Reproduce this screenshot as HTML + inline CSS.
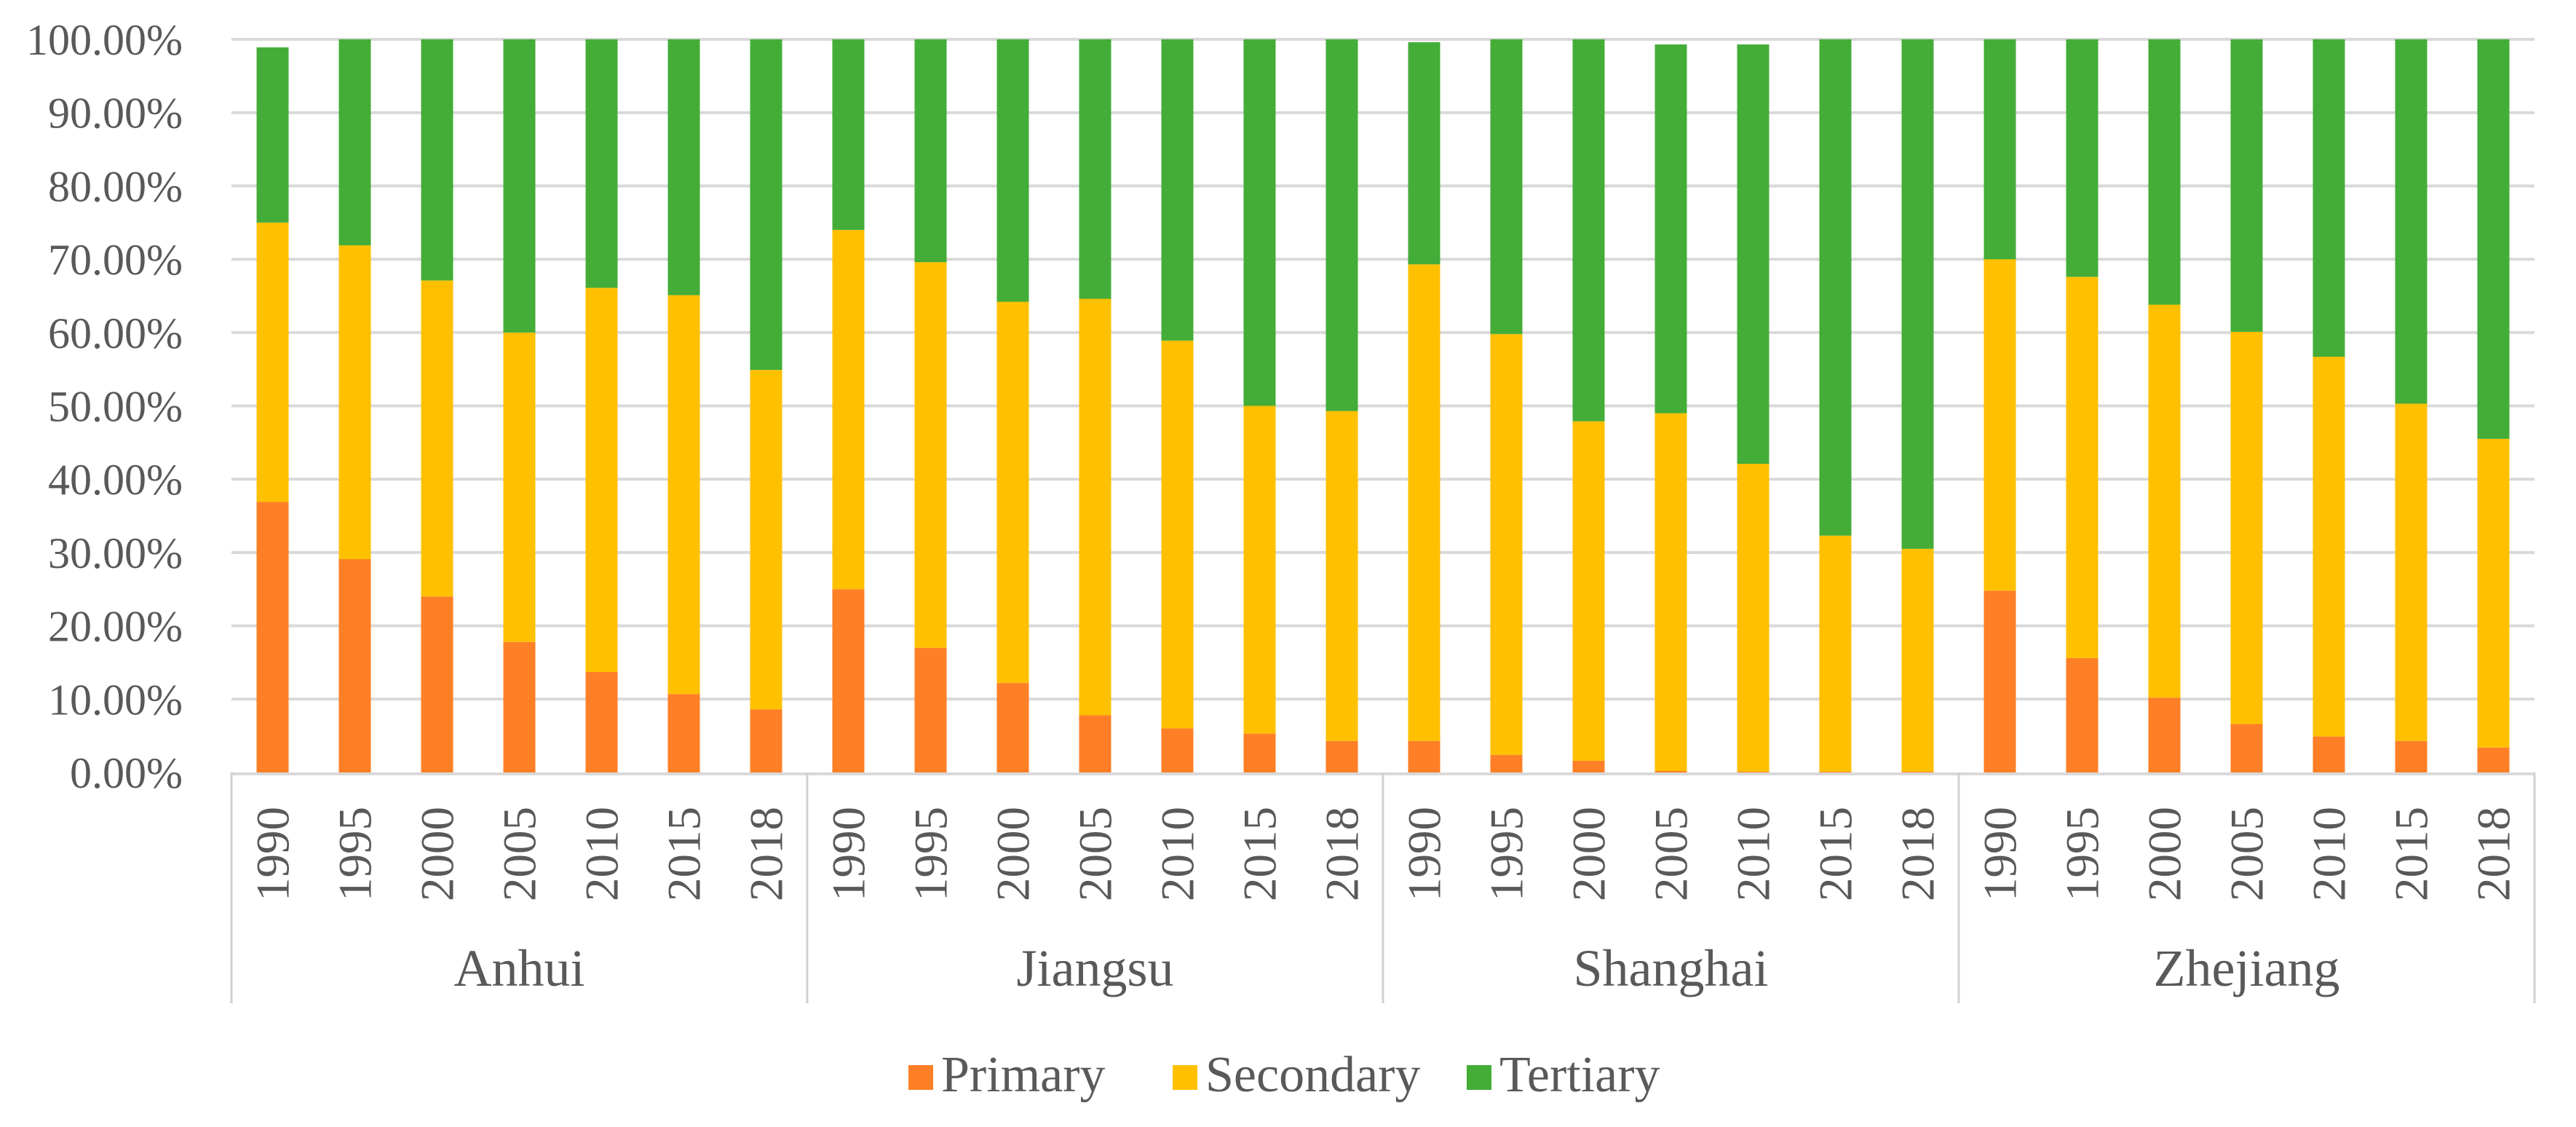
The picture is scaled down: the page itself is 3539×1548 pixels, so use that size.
<!DOCTYPE html>
<html><head><meta charset="utf-8"><style>
html,body{margin:0;padding:0;background:#fff;}
svg{display:block;}
text{font-family:"Liberation Serif",serif;fill:#595959;}
</style></head><body>
<svg id="chart" width="3539" height="1548" viewBox="0 0 3539 1548" xmlns="http://www.w3.org/2000/svg">
<g id="grid"></g>
<g id="yaxis"></g>
<g id="bars"></g>
<g id="xaxis"></g>
<g id="legend"></g>
</svg>
<script>
const regions = ["Anhui","Jiangsu","Shanghai","Zhejiang"];
const years = ["1990","1995","2000","2005","2010","2015","2018"];
const primary = [36.9,29.1,24.0,17.8,13.7,10.7,8.6, 25.0,17.0,12.2,7.8,6.0,5.3,4.3, 4.3,2.4,1.6,0.2,0.1,0.1,0.1, 24.8,15.6,10.2,6.6,4.9,4.3,3.4];
const secondary = [38.1,42.8,43.1,42.2,52.4,54.4,46.3, 49.0,52.6,52.0,56.8,52.9,44.7,45.0, 65.0,57.4,46.3,48.8,42.0,32.2,30.4, 45.2,52.0,53.6,53.5,51.8,46.0,42.1];
const tertiary = [23.9,28.1,32.9,40.0,33.9,34.9,45.1, 26.0,30.4,35.8,35.4,41.1,50.0,50.7, 30.3,40.2,52.1,50.3,57.2,67.7,69.5, 30.0,32.4,36.2,39.9,43.3,49.7,54.5];
const yTicks = [0,10,20,30,40,50,60,70,80,90,100];
const yTickLabels = ["0.00%","10.00%","20.00%","30.00%","40.00%","50.00%","60.00%","70.00%","80.00%","90.00%","100.00%"];
const seriesNames = ["Primary","Secondary","Tertiary"];
const colors = ["#FE7F26","#FFC000","#44AD38"];

const NS="http://www.w3.org/2000/svg";
const L=318,R=3482,Y0=1061,Y100=54,BW=44;
const n=regions.length*years.length;
const step=(R-L)/n;
const y=v=>Y0-(Y0-Y100)*v/100;
const xc=i=>L+step*(i+0.5);
function mk(tag,attrs,parent){const e=document.createElementNS(NS,tag);for(const k in attrs)e.setAttribute(k,attrs[k]);parent.appendChild(e);return e;}
const grid=document.getElementById('grid'),ya=document.getElementById('yaxis'),bars=document.getElementById('bars'),xa=document.getElementById('xaxis'),lg=document.getElementById('legend');
yTicks.forEach((t,i)=>{
  if(t>0){const g=mk('line',{x1:L,x2:R,y1:y(t),y2:y(t),stroke:'#d9d9d9','stroke-width':4},grid);
  
  }
  const tx=mk('text',{x:251,y:y(t)+21,'text-anchor':'end','font-size':60},ya);
  tx.textContent=yTickLabels[i];
  
  
});
for(let i=0;i<n;i++){
  const p=primary[i],s=secondary[i],t=tertiary[i];
  const segs=[[0,p],[p,p+s],[p+s,p+s+t]];
  segs.forEach((sg,k)=>{
    const r=mk('rect',{x:xc(i)-BW/2,y:y(sg[1]),width:BW,height:Math.max(0,y(sg[0])-y(sg[1])),fill:colors[k]},bars);
    
    
  });
  const yt=mk('text',{x:0,y:0,'font-size':65,'text-anchor':'end',transform:`translate(${xc(i)+22},1108) rotate(-90)`},xa);
  yt.textContent=years[i%years.length];
  
  
}
const ax=mk('line',{x1:L,x2:R,y1:Y0+2,y2:Y0+2,stroke:'#d9d9d9','stroke-width':4},xa);


for(let g=0;g<=regions.length;g++){
  const x=L+step*years.length*g;
  const ln=mk('line',{x1:x,x2:x,y1:Y0,y2:1378,stroke:'#d0d0d0','stroke-width':3},xa);
  
  
  if(g<regions.length){
    const t=mk('text',{x:x+step*years.length/2,y:1354,'text-anchor':'middle','font-size':72},xa);
    t.textContent=regions[g];
    
    
  }
}
const lx=[1248,1611,2015];
seriesNames.forEach((nm,k)=>{
  const r=mk('rect',{x:lx[k],y:1463,width:34,height:34,fill:colors[k]},lg);
  
  
  const t=mk('text',{x:lx[k]+45,y:1499,'font-size':70},lg);
  t.textContent=nm;
  
  
});
</script>
</body></html>
